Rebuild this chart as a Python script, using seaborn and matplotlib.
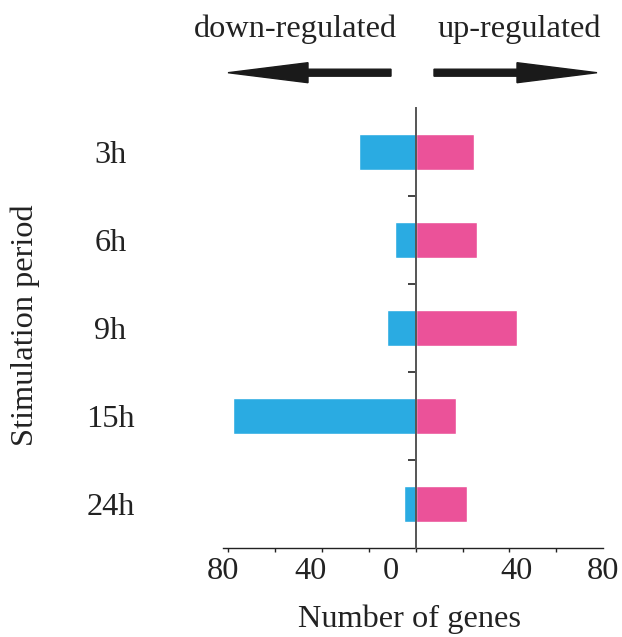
import matplotlib
matplotlib.use("Agg")
import matplotlib.pyplot as plt
from matplotlib.patches import FancyArrow
import pandas as pd
import seaborn as sns

# Differentially expressed genes per stimulation period
periods = ["3h", "6h", "9h", "15h", "24h"]
down_regulated = [24, 9, 12, 78, 5]
up_regulated = [25, 26, 43, 17, 22]

x_ticks = [-80, -60, -40, -20, 0, 20, 40, 60, 80]
x_label_pos = [-82, -45, -10.5, 43, 80]
x_label_text = ["80", "40", "0", "40", "80"]

BLUE = "#2AABE2"
PINK = "#EB5299"
INK = "#222222"
FS = 23.3

sns.set_style("white")
plt.rcParams["font.family"] = ["Liberation Serif", "DejaVu Serif"]
plt.rcParams["font.size"] = FS

fig = plt.figure(figsize=(6.22, 6.37), dpi=100)
ax = fig.add_axes([223.3 / 622, 89 / 637, 380 / 622, 440 / 637])

df = pd.DataFrame({
    "period": periods * 2,
    "genes": [-v for v in down_regulated] + up_regulated,
    "direction": ["down"] * len(periods) + ["up"] * len(periods),
})
sns.barplot(data=df, x="genes", y="period", hue="direction", order=periods,
            palette={"down": BLUE, "up": PINK}, dodge=False, width=0.4,
            saturation=1, legend=False, ax=ax)

ax.set_xlim(-80, 80)
ax.set_ylim(len(periods) - 0.5, -0.5)
ax.set_xlabel("")
ax.set_ylabel("")

for side in ("top", "right"):
    ax.spines[side].set_visible(False)
ax.spines["left"].set_position(("data", 0))
ax.spines["left"].set_color("#555555")
ax.spines["left"].set_linewidth(1.4)
ax.spines["left"].set_zorder(5)
ax.spines["bottom"].set_color(INK)
ax.spines["bottom"].set_linewidth(1.0)

# x axis: tick marks every 20, magnitude labels on both sides
ax.set_xticks(x_label_pos)
ax.set_xticklabels(x_label_text)
ax.set_xticks(x_ticks, minor=True)
ax.tick_params(axis="x", which="both", bottom=True)
ax.tick_params(axis="x", which="major", length=0, pad=6.5, labelsize=FS, labelcolor=INK)
ax.tick_params(axis="x", which="minor", length=3.2, width=1.0, direction="out", color=INK)

# y axis: labels on the far left, short ticks between periods on the centre line
ax.set_yticks(range(len(periods)))
ax.set_yticklabels(periods)
ax.set_yticks([i + 0.5 for i in range(len(periods) - 1)], minor=True)
ax.tick_params(axis="y", which="both", left=True)
ax.tick_params(axis="y", which="major", length=0, pad=219.7, labelsize=FS, labelcolor=INK)
ax.tick_params(axis="y", which="minor", length=6, width=1.2, direction="out", color=INK)
for lab in ax.get_yticklabels():
    lab.set_horizontalalignment("center")

fig.text(25 / 622, 1 - 325 / 637, "Stimulation period", rotation=90,
         ha="center", va="center", fontsize=FS, color=INK)
fig.text(410 / 622, 10 / 637, "Number of genes", ha="center", va="baseline",
         fontsize=FS, color=INK)

# direction headers with arrows
fig.text(295 / 622, 1 - 37 / 637, "down-regulated", ha="center", va="baseline",
         fontsize=FS, color=INK)
fig.text(519 / 622, 1 - 37 / 637, "up-regulated", ha="center", va="baseline",
         fontsize=FS, color=INK)
arrow_y = (637 - 72.7) / 100
for x0, dx in ((3.91, -1.63), (4.34, 1.63)):
    fig.add_artist(FancyArrow(x0, arrow_y, dx, 0, width=0.07, head_width=0.20,
                              head_length=0.80, length_includes_head=True,
                              color="#1a1a1a", transform=fig.dpi_scale_trans))

fig.savefig("out.png", dpi=100)
